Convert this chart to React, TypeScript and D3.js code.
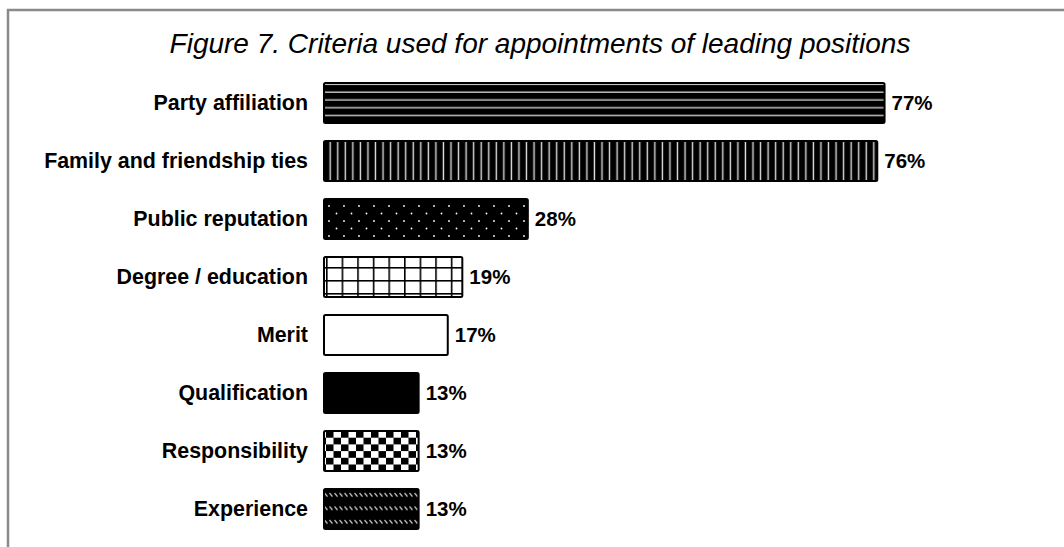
import React from "react";
import * as d3 from "d3";

const categories = [
  "Party affiliation",
  "Family and friendship ties",
  "Public reputation",
  "Degree / education",
  "Merit",
  "Qualification",
  "Responsibility",
  "Experience",
];
const values = [77, 76, 28, 19, 17, 13, 13, 13];
const fills = ["hlines", "vlines", "dots", "grid", "white", "black", "checker", "diag"];
const title = "Figure 7. Criteria used for appointments of leading positions";

const W = 1064;
const H = 547;

export default function App() {
  const x = d3.scaleLinear().domain([0, 100]).range([324, 1052]);
  const y = d3
    .scaleBand<string>()
    .domain(categories)
    .range([74, 538])
    .paddingInner(0.31)
    .paddingOuter(0.155);

  const fillFor = (f: string) =>
    f === "white" ? "#fff" : f === "black" ? "#000" : `url(#${f})`;

  const font = "'Liberation Sans', Arial, sans-serif";

  return (
    <svg
      width={W}
      height={H}
      style={{ position: "absolute", left: 0, top: 0, background: "#fff" }}
    >
      <defs>
        <pattern id="hlines" patternUnits="userSpaceOnUse" width={10} height={7.8} y={88}>
          <rect width={10} height={7.8} fill="#000" />
          <rect y={3.5} width={10} height={1.3} fill="#ddd" />
        </pattern>
        <pattern id="vlines" patternUnits="userSpaceOnUse" width={7.55} height={10} x={326}>
          <rect width={7.55} height={10} fill="#000" />
          <rect x={3.5} width={1.4} height={10} fill="#ddd" />
        </pattern>
        <pattern id="dots" patternUnits="userSpaceOnUse" width={15} height={15} x={324} y={196}>
          <rect width={15} height={15} fill="#000" />
          <circle cx={5} cy={10} r={0.9} fill="#fff" />
          <circle cx={12.5} cy={2.5} r={0.9} fill="#fff" />
        </pattern>
        <pattern id="grid" patternUnits="userSpaceOnUse" width={15.6} height={13} x={326} y={254}>
          <rect width={15.6} height={13} fill="#fff" />
          <rect x={0} width={1.6} height={13} fill="#000" />
          <rect y={0} width={15.6} height={1.6} fill="#000" />
        </pattern>
        <pattern id="checker" patternUnits="userSpaceOnUse" width={15} height={13.4} x={326} y={431}>
          <rect width={15} height={13.4} fill="#fff" />
          <rect x={0} y={0} width={7.5} height={6.7} fill="#000" />
          <rect x={7.5} y={6.7} width={7.5} height={6.7} fill="#000" />
        </pattern>
        <pattern id="diag" patternUnits="userSpaceOnUse" width={5} height={13.5} x={324} y={490}>
          <rect width={5} height={13.5} fill="#000" />
          <line x1={0.5} y1={3} x2={3.5} y2={6.5} stroke="#ccc" strokeWidth={1.3} />
        </pattern>
      </defs>

      <path d={`M8,${H} V10 H${W}`} fill="none" stroke="#8a8a8a" strokeWidth={2.5} />

      <text
        x={540}
        y={53}
        textAnchor="middle"
        fontFamily={font}
        fontStyle="italic"
        fontSize={28}
        fill="#000"
      >
        {title}
      </text>

      {categories.map((c, i) => {
        const y0 = y(c)!;
        const bw = y.bandwidth();
        return (
          <g key={c}>
            <text
              x={308}
              y={y0 + bw / 2}
              dy="0.35em"
              textAnchor="end"
              fontFamily={font}
              fontWeight="bold"
              fontSize={21.4}
              fill="#000"
            >
              {c}
            </text>
            <rect
              x={x(0)}
              y={y0}
              width={x(values[i]) - x(0)}
              height={bw}
              rx={1.5}
              fill={fillFor(fills[i])}
              stroke="#000"
              strokeWidth={2}
            />
            <text
              x={x(values[i]) + 7}
              y={y0 + bw / 2}
              dy="0.35em"
              fontFamily={font}
              fontWeight="bold"
              fontSize={20.5}
              fill="#000"
            >
              {values[i]}%
            </text>
          </g>
        );
      })}
    </svg>
  );
}
